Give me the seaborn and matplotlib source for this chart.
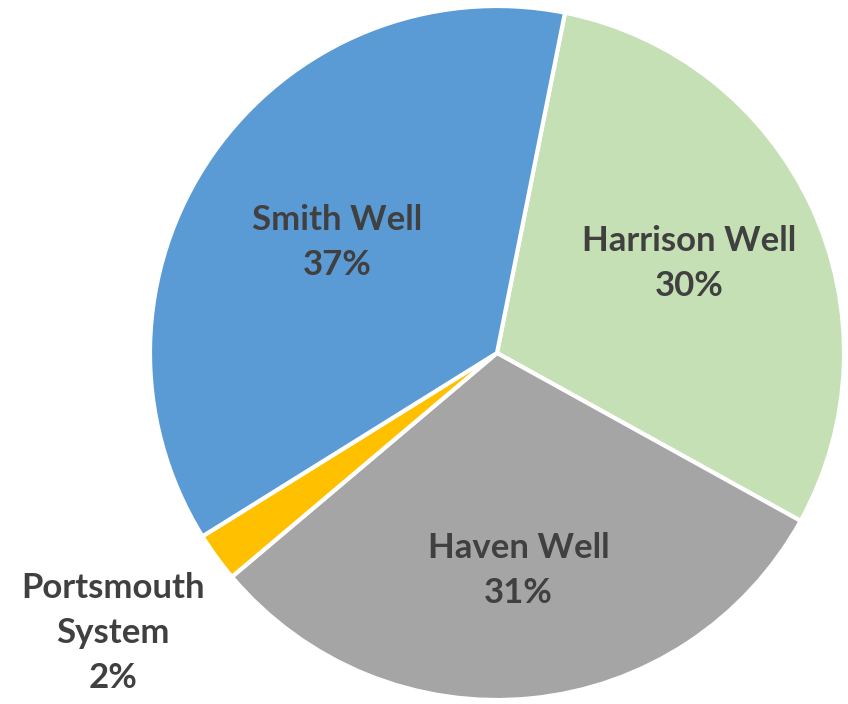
import numpy as np
import matplotlib
matplotlib.use("Agg")
import matplotlib.pyplot as plt
import seaborn as sns

# data (clockwise from top)
sources = ["Harrison Well", "Haven Well", "Portsmouth\nSystem", "Smith Well"]
shares = [29.9, 30.8, 2.3, 37.0]
pct_labels = ["30%", "31%", "2%", "37%"]

colors = ["#C5E0B4", "#A5A5A5", "#FFC000", "#5B9BD5"]
label_dist = [0.61, 0.63, 1.37, 0.56]

sns.set_theme(style="white")
plt.rcParams['font.family'] = ['Lato', 'DejaVu Sans']

fig = plt.figure(figsize=(8.48, 7.04), dpi=100)
ax = fig.add_axes([0, 0, 1, 1])

cx, cy, r = 497, 351, 347
wedges, _ = ax.pie(shares, colors=colors, startangle=78.7, counterclock=False,
                   center=(cx, cy), radius=r,
                   wedgeprops=dict(edgecolor="white", linewidth=3))

# labels placed along each wedge's middle angle
for w, name, pct, d in zip(wedges, sources, pct_labels, label_dist):
    mid = np.deg2rad((w.theta1 + w.theta2) / 2)
    x = cx + d * r * np.cos(mid)
    y = cy + d * r * np.sin(mid)
    ax.text(x, y, f"{name}\n{pct}", ha="center", va="center",
            fontsize=25, fontweight="bold", color="#404040", linespacing=1.5)

ax.set_xlim(0, 848)
ax.set_ylim(0, 704)
ax.set_aspect("equal")
ax.axis("off")

fig.savefig("out.png", dpi=100, facecolor="white")
